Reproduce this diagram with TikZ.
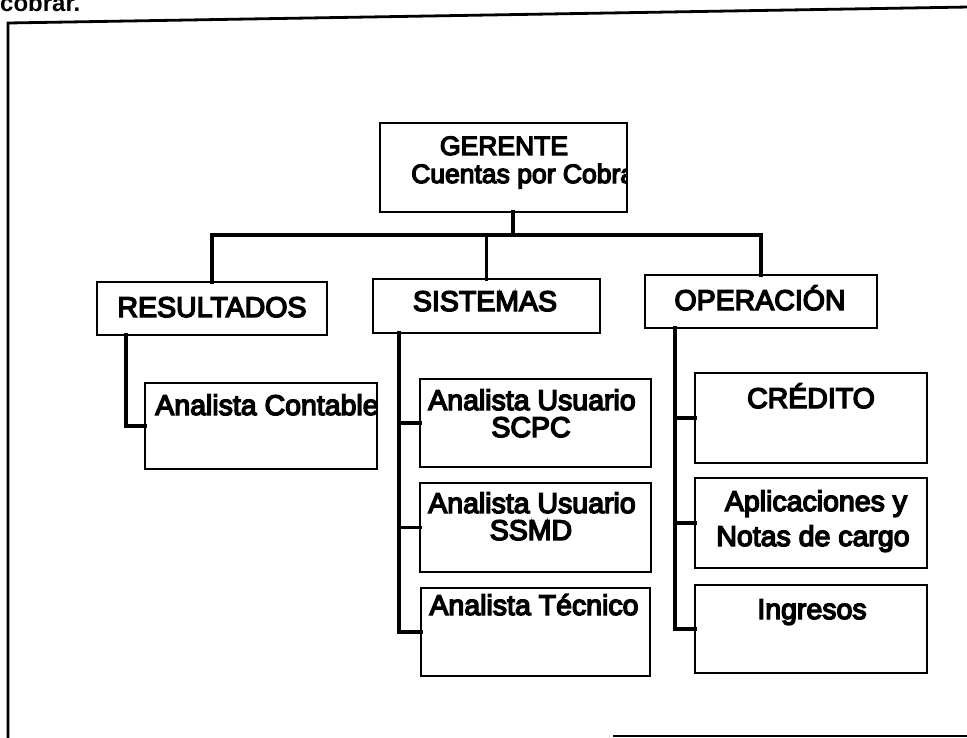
\documentclass[tikz,border=0pt]{standalone}
\usepackage{fontspec}
\setmainfont{Liberation Sans}
\newfontfamily\heavysans[FakeBold=5]{Liberation Sans}
\begin{document}
\begin{tikzpicture}[x=1pt,y=-1pt,
  box/.style={draw=black, line width=1.6pt, inner sep=0pt, outer sep=0pt, anchor=north west},
  conn/.style={draw=black, line width=3.2pt, line cap=rect},
  frame/.style={draw=black, line width=2.8pt},
  txt/.style={anchor=base, inner sep=0pt, font=\heavysans\fontsize{28.5}{32}\selectfont},
  gtxt/.style={anchor=base, inner sep=0pt, font=\heavysans\fontsize{26.5}{30}\selectfont}
]
\useasboundingbox (0,0) rectangle (967,737);

% top text fragment
\node[anchor=base west, inner sep=0pt, font=\bfseries\fontsize{24}{28}\selectfont] (cobrar) at (0,11) {cobrar.};

% frame
\coordinate (ftl) at (8,23);
\coordinate (ftr) at (969,7);
\coordinate (fbl) at (8,740);
\coordinate (fbs) at (613,736);
\coordinate (fbr) at (969,736);
\draw[frame] (fbl) -- (ftl) -- (ftr);
\draw[frame] (fbs) -- (fbr);

% boxes
\node[box, minimum width=247pt, minimum height=89pt] (ger) at (380,123) {};
\node[box, minimum width=230pt, minimum height=53pt] (res) at (97,282) {};
\node[box, minimum width=227pt, minimum height=54pt] (sis) at (373,279) {};
\node[box, minimum width=232pt, minimum height=53pt] (ops) at (645,275) {};
\node[box, minimum width=232pt, minimum height=86pt] (ac) at (145,383) {};
\node[box, minimum width=231pt, minimum height=88pt] (scpc) at (420,379) {};
\node[box, minimum width=231pt, minimum height=89pt] (ssmd) at (420,483) {};
\node[box, minimum width=229pt, minimum height=88pt] (tec) at (421,588) {};
\node[box, minimum width=232pt, minimum height=90pt] (cre) at (695,373) {};
\node[box, minimum width=232pt, minimum height=90pt] (apl) at (695,478) {};
\node[box, minimum width=232pt, minimum height=88pt] (ing) at (695,585) {};

% texts
\node[gtxt] (tger1) at (504,155) {GERENTE};
\begin{scope}
\clip (ger.north west) rectangle (ger.south east);
\node[gtxt, anchor=base west] (tger2) at (411,183) {Cuentas por Cobrar};
\end{scope}
\draw[box] (ger.north west) rectangle (ger.south east);
\node[txt] (tres) at (212,317) {RESULTADOS};
\node[txt] (tsis) at (485,311) {SISTEMAS};
\node[txt] (tops) at (760,310) {OPERACIÓN};
\node[txt] (tac) at (267,415) {Analista Contable};
\node[txt] (tscpc1) at (532,410) {Analista Usuario};
\node[txt] (tscpc2) at (531,437) {SCPC};
\node[txt] (tssmd1) at (532,513) {Analista Usuario};
\node[txt] (tssmd2) at (531,540) {SSMD};
\node[txt] (ttec) at (534,615) {Analista Técnico};
\node[txt] (tcre) at (811,408) {CRÉDITO};
\node[txt] (tapl1) at (816,511) {Aplicaciones y};
\node[txt] (tapl2) at (813,546) {Notas de cargo};
\node[txt] (ting) at (812,619) {Ingresos};

% top-level connectors
\coordinate (bus) at (0,235);
\coordinate (gstem) at ([xshift=9.5pt]ger.south);
\draw[conn] (gstem) -- (gstem |- bus);
\draw[conn] (res.north) |- (bus -| ops.north) -- (ops.north);
\draw[conn] (sis.north) -- (sis.north |- bus);

% RESULTADOS branch
\coordinate (resbar) at ([xshift=29pt]res.south west);
\draw[conn] (resbar) |- (ac.west);

% SISTEMAS branch
\coordinate (sisbar) at ([xshift=26pt]sis.south west);
\draw[conn] (sisbar) |- (tec.west);
\draw[conn] (scpc.west) -- (scpc.west -| sisbar);
\draw[conn] (ssmd.west) -- (ssmd.west -| sisbar);

% OPERACION branch
\coordinate (opsbar) at ([xshift=30pt]ops.south west);
\draw[conn] (opsbar) |- (ing.west);
\draw[conn] (cre.west) -- (cre.west -| opsbar);
\draw[conn] (apl.west) -- (apl.west -| opsbar);
\end{tikzpicture}
\end{document}
